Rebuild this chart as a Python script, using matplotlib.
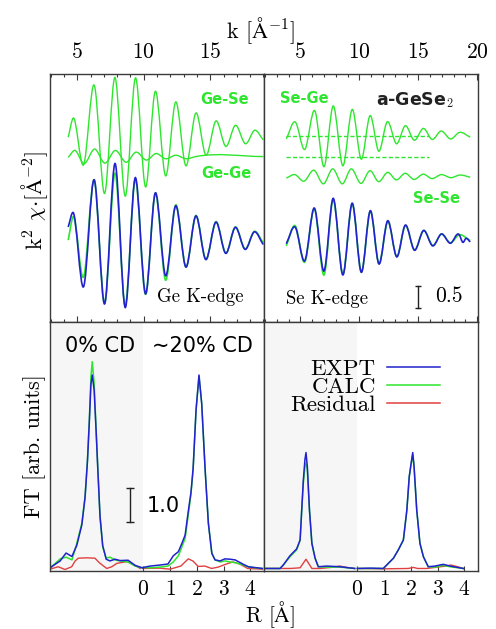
import numpy as np
import matplotlib
matplotlib.use('Agg')
import matplotlib.pyplot as plt
from matplotlib.path import Path
from matplotlib.patches import PathPatch
from matplotlib.ticker import MultipleLocator

plt.rcParams['font.family'] = 'serif'
plt.rcParams['font.serif'] = ['cmr10']
plt.rcParams['mathtext.fontset'] = 'cm'
plt.rcParams['axes.formatter.use_mathtext'] = True

# ---- k-space, Ge K-edge (extrema) ----
k_gese = [4.32, 4.68, 5.47, 6.28, 7.05, 7.83, 8.61, 9.38, 10.14, 10.86, 11.65,
          12.40, 13.17, 13.92, 14.68, 15.43, 16.18, 16.89, 17.65, 18.36, 18.98]
gese = [4.20, 4.63, 3.57, 5.38, 2.92, 5.56, 2.86, 5.55, 3.07, 5.24, 3.32,
        5.00, 3.55, 4.75, 3.79, 4.57, 3.99, 4.47, 4.05, 4.36, 4.14]
k_gege = [4.32, 4.80, 5.50, 6.31, 7.07, 7.86, 8.68, 9.41, 10.20, 10.94, 11.63,
          12.42, 13.17, 13.92, 19.0]
gege = [3.74, 3.90, 3.60, 3.93, 3.61, 3.90, 3.63, 3.86, 3.68, 3.83, 3.71,
        3.79, 3.71, 3.76, 3.76]
k_ge = [4.32, 4.68, 5.47, 6.28, 7.05, 7.85, 8.60, 9.36, 10.14, 10.86, 11.65,
        12.40, 13.17, 13.92, 14.66, 15.43, 16.17, 16.88, 17.63, 18.32, 18.98]
ge_expt = [2.16, 2.49, 0.80, 3.23, 0.41, 3.60, 0.33, 3.28, 0.64, 2.93, 1.05,
           2.64, 1.25, 2.41, 1.42, 2.27, 1.56, 2.15, 1.65, 2.05, 1.76]
ge_calc = [1.86, 2.39, 1.02, 3.22, 0.43, 3.38, 0.38, 3.24, 0.63, 2.92, 0.95,
           2.66, 1.25, 2.42, 1.43, 2.28, 1.57, 2.16, 1.66, 2.06, 1.80]

# ---- k-space, Se K-edge ----
k_sege = [3.81, 4.55, 5.37, 6.23, 7.01, 7.78, 8.61, 9.40, 10.17, 10.91, 11.66,
          12.36, 13.17, 13.89, 14.66, 15.44, 16.17, 16.93, 17.74, 18.50, 19.40]
sege = [4.16, 4.55, 3.92, 4.80, 3.53, 4.91, 3.55, 4.83, 3.70, 4.69, 3.88,
        4.55, 4.05, 4.46, 4.13, 4.40, 4.15, 4.34, 4.16, 4.31, 4.20]
k_sese = [3.81, 4.53, 5.30, 6.15, 6.96, 7.74, 8.57, 9.31, 10.14, 10.91, 11.63,
          12.40, 13.14, 13.89, 14.63, 15.42, 16.15, 16.96, 17.76, 18.53, 19.40]
sese = [3.27, 3.35, 3.20, 3.45, 3.14, 3.48, 3.14, 3.48, 3.15, 3.44, 3.19,
        3.40, 3.23, 3.38, 3.24, 3.36, 3.26, 3.35, 3.28, 3.34, 3.29]
k_se_expt = [3.81, 4.55, 5.37, 6.19, 7.01, 7.78, 8.61, 9.40, 10.17, 10.94, 11.66,
             12.40, 13.19, 13.89, 14.68, 15.45, 16.23, 16.96, 17.72, 18.45,
             18.79, 19.04, 19.40]
se_expt = [1.78, 2.16, 1.39, 2.59, 1.16, 2.81, 1.07, 2.70, 1.13, 2.53, 1.32,
           2.30, 1.48, 2.20, 1.63, 2.08, 1.73, 2.00, 1.79, 1.99, 1.81, 1.90, 1.82]
k_se_calc = [3.81, 4.55, 5.37, 6.19, 7.01, 7.78, 8.61, 9.40, 10.17, 10.94, 11.66,
             12.40, 13.19, 13.89, 14.68, 15.45, 16.23, 16.96, 17.72, 18.45, 19.40]
se_calc = [1.73, 2.19, 1.36, 2.57, 1.07, 2.78, 1.09, 2.68, 1.14, 2.52, 1.33,
           2.28, 1.49, 2.19, 1.64, 2.08, 1.74, 2.00, 1.80, 1.98, 1.85]
dash_k = [3.8, 15.9]
dash_levels = [4.22, 3.75]

# ---- R-space, Ge K-edge ----
r_ge0 = [0.51, 0.89, 1.11, 1.33, 1.51, 1.70, 1.82, 1.91, 1.98, 2.04, 2.09, 2.16,
         2.23, 2.30, 2.38, 2.48, 2.61, 2.75, 2.94, 3.13, 3.43, 3.69, 3.99]
ft_ge0_calc = [0.04, 0.31, 0.36, 0.28, 0.76, 1.35, 2.12, 3.19, 4.36, 5.62, 6.06, 5.43,
               4.16, 2.90, 1.54, 0.66, 0.33, 0.36, 0.28, 0.25, 0.22, 0.10, 0.04]
ft_ge0_expt = [0.05, 0.25, 0.48, 0.38, 0.70, 1.30, 2.10, 3.15, 4.30, 5.40, 5.67, 5.23,
               4.10, 2.88, 1.55, 0.70, 0.30, 0.25, 0.30, 0.26, 0.27, 0.12, 0.04]
r_ge0_res = [0.51, 0.82, 1.07, 1.32, 1.45, 1.57, 1.88, 2.19, 2.35, 2.63, 2.82, 3.01,
             3.38, 3.65, 3.88]
ft_ge0_res = [0.01, 0.08, 0.00, 0.08, 0.25, 0.33, 0.34, 0.33, 0.20, 0.03, 0.08, 0.18,
              0.23, 0.14, 0.03]
r_ge20 = [0.0, 0.25, 0.62, 0.92, 1.12, 1.31, 1.44, 1.56, 1.68, 1.78, 1.86, 1.97, 2.08,
          2.18, 2.31, 2.43, 2.56, 2.68, 2.87, 3.05, 3.24, 3.43, 3.74, 3.93, 4.45]
ft_ge20_calc = [0.06, 0.05, 0.07, 0.10, 0.22, 0.40, 0.66, 0.90, 1.60, 2.20, 2.90, 4.65,
                5.62, 4.85, 2.90, 1.35, 0.47, 0.28, 0.22, 0.25, 0.22, 0.20, 0.13, 0.07, 0.03]
ft_ge20_expt = [0.06, 0.10, 0.13, 0.16, 0.40, 0.52, 0.76, 1.00, 1.70, 2.25, 2.95, 4.65,
                5.67, 4.85, 2.90, 1.35, 0.47, 0.28, 0.25, 0.31, 0.30, 0.28, 0.15, 0.08, 0.03]
r_ge20_res = [0.0, 0.6, 1.0, 1.4, 1.68, 1.85, 2.05, 2.3, 2.55, 2.8, 3.1, 3.35, 3.6, 3.9, 4.45]
ft_ge20_res = [0.03, 0.04, 0.01, 0.10, 0.31, 0.25, 0.09, 0.10, 0.03, 0.07, 0.16, 0.22,
               0.16, 0.03, 0.01]

# ---- R-space, Se K-edge ----
r_se0 = [0.49, 1.11, 1.23, 1.48, 1.73, 1.86, 1.92, 1.98, 2.04, 2.08, 2.13, 2.21,
         2.30, 2.42, 2.54, 2.86, 3.35, 3.90]
ft_se0_calc = [0.03, 0.03, 0.13, 0.37, 0.57, 0.86, 1.73, 2.51, 3.00, 3.10, 2.90, 1.73,
               0.76, 0.33, 0.08, 0.07, 0.07, 0.03]
ft_se0_expt = [0.03, 0.03, 0.13, 0.40, 0.60, 0.86, 1.73, 2.60, 3.20, 3.41, 3.00, 1.73,
               0.76, 0.33, 0.08, 0.10, 0.08, 0.03]
r_se0_res = [0.49, 1.5, 1.86, 2.08, 2.30, 2.6, 3.0, 3.35, 3.6, 3.9]
ft_se0_res = [0.03, 0.03, 0.05, 0.30, 0.03, 0.03, 0.06, 0.10, 0.06, 0.03]
r_se20 = [0.0, 0.5, 0.97, 1.35, 1.53, 1.72, 1.85, 1.94, 2.01, 2.07, 2.12, 2.22, 2.34,
          2.47, 2.65, 2.9, 3.21, 3.47, 3.96]
ft_se20_calc = [0.03, 0.03, 0.03, 0.33, 0.57, 0.86, 1.73, 2.71, 3.06, 3.34, 3.0, 1.73,
                0.76, 0.37, 0.08, 0.07, 0.12, 0.08, 0.03]
ft_se20_expt = [0.03, 0.04, 0.03, 0.33, 0.57, 0.86, 1.73, 2.71, 3.10, 3.41, 3.0, 1.73,
                0.76, 0.37, 0.08, 0.10, 0.15, 0.10, 0.03]
r_se20_res = [0.0, 1.0, 1.9, 2.1, 2.25, 2.6, 3.0, 3.3, 3.5, 3.75, 3.96]
ft_se20_res = [0.03, 0.02, 0.03, 0.06, 0.03, 0.03, 0.07, 0.10, 0.13, 0.08, 0.03]

r_shift = 4.0   # 0% CD curves are drawn to the left of R = 0

blue = '#2222cc'
green = '#2ee62e'
red = '#e04040'
edge = '#3a3a3a'


def smooth(ax, x, y, color, lw=1.0):
    # cubic curve through the read extrema
    x = np.asarray(x, float)
    y = np.asarray(y, float)
    m = np.gradient(y, x)
    verts = [(x[0], y[0])]
    for i in range(len(x) - 1):
        h = (x[i + 1] - x[i]) / 3
        verts += [(x[i] + h, y[i] + m[i] * h),
                  (x[i + 1] - h, y[i + 1] - m[i + 1] * h),
                  (x[i + 1], y[i + 1])]
    codes = [Path.MOVETO] + [Path.CURVE4] * (3 * (len(x) - 1))
    ax.add_patch(PathPatch(Path(verts, codes), fill=False, edgecolor=color, lw=lw))


fig = plt.figure(figsize=(4.96, 6.29), dpi=100)
W, H = 496, 629
ax_tl = fig.add_axes([50 / W, 1 - 322 / H, 214 / W, 248 / H])
ax_tr = fig.add_axes([264 / W, 1 - 322 / H, 214 / W, 248 / H])
ax_bl = fig.add_axes([50 / W, 1 - 570.7 / H, 214 / W, 248.7 / H])
ax_br = fig.add_axes([264 / W, 1 - 570.7 / H, 214 / W, 248.7 / H])

for ax in [ax_tl, ax_tr, ax_bl, ax_br]:
    for s in ax.spines.values():
        s.set_color(edge)
        s.set_linewidth(1.0)
    ax.set_yticks([])

# top row
smooth(ax_tl, k_gese, gese, green)
smooth(ax_tl, k_gege, gege, green)
smooth(ax_tl, k_ge, ge_calc, green, 1.2)
smooth(ax_tl, k_ge, ge_expt, blue, 1.2)
ax_tl.set_xlim(2.95, 19.04)

smooth(ax_tr, k_sege, sege, green)
smooth(ax_tr, k_sese, sese, green)
ax_tr.hlines(dash_levels, dash_k[0], dash_k[1], colors=green, lw=1.0,
             linestyles=(0, (3, 1.6)))
smooth(ax_tr, k_se_calc, se_calc, green, 1.2)
smooth(ax_tr, k_se_expt, se_expt, blue, 1.2)
ax_tr.set_xlim(1.92, 20.06)

for ax in [ax_tl, ax_tr]:
    ax.set_ylim(0, 248 / 44)
    ax.xaxis.set_major_locator(MultipleLocator(5))
    ax.xaxis.set_minor_locator(MultipleLocator(1))
    ax.tick_params(axis='x', which='both', direction='in', top=True, bottom=True,
                   labeltop=True, labelbottom=False, labelsize=15.5, pad=9,
                   color=edge, width=0.8)
    ax.tick_params(axis='x', which='major', length=4.3)
    ax.tick_params(axis='x', which='minor', length=2.0)

sans_g = dict(family='DejaVu Sans', fontweight='bold', color=green, fontsize=10.5,
              ha='center', va='center')
ax_tl.text(0.816, 0.899, 'Ge-Se', transform=ax_tl.transAxes, **sans_g)
ax_tl.text(0.822, 0.600, 'Ge-Ge', transform=ax_tl.transAxes, **sans_g)
ax_tl.text(0.701, 0.102, 'Ge K-edge', transform=ax_tl.transAxes, fontsize=13.5,
           ha='center', va='center')
ax_tr.text(0.188, 0.903, 'Se-Ge', transform=ax_tr.transAxes, **sans_g)
ax_tr.text(0.808, 0.497, 'Se-Se', transform=ax_tr.transAxes, **sans_g)
ax_tr.text(0.706, 0.895, r'a-GeSe$_2$', transform=ax_tr.transAxes, family='DejaVu Sans',
           fontweight='bold', fontsize=12.5, ha='center', va='center', color='#222222')
ax_tr.text(0.293, 0.094, 'Se K-edge', transform=ax_tr.transAxes, fontsize=13.5,
           ha='center', va='center')
# 0.5 scale bar
ax_tr.plot([15.0, 15.0], [0.325, 0.825], color='#222222', lw=1.0, marker='_', ms=5)
ax_tr.text(16.4, 0.575, '0.5', fontsize=15.5, ha='left', va='center')

# bottom row
panels = [
    (ax_bl, r_ge0, ft_ge0_expt, ft_ge0_calc, r_ge0_res, ft_ge0_res,
     r_ge20, ft_ge20_expt, ft_ge20_calc, r_ge20_res, ft_ge20_res),
    (ax_br, r_se0, ft_se0_expt, ft_se0_calc, r_se0_res, ft_se0_res,
     r_se20, ft_se20_expt, ft_se20_calc, r_se20_res, ft_se20_res),
]
for ax, r0, e0, c0, rr0, res0, r2, e2, c2, rr2, res2 in panels:
    ax.axvspan(-3.49, 0, color='#f6f6f6', lw=0, zorder=0)
    x0 = np.array(r0) - r_shift
    xr0 = np.array(rr0) - r_shift
    ax.plot(xr0, res0, color=red, lw=1.0)
    ax.plot(rr2, res2, color=red, lw=1.0)
    ax.plot(x0, c0, color=green, lw=1.1)
    ax.plot(r2, c2, color=green, lw=1.1)
    ax.plot(x0, e0, color=blue, lw=1.1)
    ax.plot(r2, e2, color=blue, lw=1.1)
    ax.set_xlim(-3.49, 4.51)
    ax.set_ylim((569.5 - 570.7) / 34.3, (569.5 - 322) / 34.3)
    ax.set_xticks([0, 1, 2, 3, 4])
    ax.tick_params(axis='x', direction='in', length=3.3, labelsize=15.5, pad=6.5,
                   color=edge, width=0.8)

ax_bl.text(0.234, 0.904, '0% CD', transform=ax_bl.transAxes, family='DejaVu Sans',
           fontsize=15, ha='center', va='center')
ax_bl.text(0.713, 0.904, '\u223c20% CD', transform=ax_bl.transAxes, family='DejaVu Sans',
           fontsize=15, ha='center', va='center')
# 1.0 scale bar
ax_bl.plot([-0.5, -0.5], [1.39, 2.39], color='#222222', lw=1.0, marker='_', ms=6)
ax_bl.text(0.14, 1.86, '1.0', family='DejaVu Sans', fontsize=15, ha='left', va='center')

h_e, = ax_br.plot([], [], color=blue, lw=1.1)
h_c, = ax_br.plot([], [], color=green, lw=1.1)
h_r, = ax_br.plot([], [], color=red, lw=1.1)
ax_br.legend([h_e, h_c, h_r], ['EXPT', 'CALC', 'Residual'], loc='upper right',
             bbox_to_anchor=(0.822, 0.85), markerfirst=False, frameon=False,
             fontsize=16.5, handlelength=2.3, handletextpad=0.5, labelspacing=-0.1,
             borderpad=0, borderaxespad=0)

fig.text(0.526, 0.952, r'k [$\mathrm{\AA}^{-1}$]', fontsize=16, ha='center', va='center')
fig.text(0.544, 0.023, r'R [$\mathrm{\AA}$]', fontsize=15.5, ha='center', va='center')
fig.text(0.07, 0.682, r'k$^2$ $\chi{\cdot}$[$\mathrm{\AA}^{-2}$]', fontsize=16,
         rotation=90, ha='center', va='center')
fig.text(0.07, 0.291, 'FT [arb. units]', fontsize=16, rotation=90,
         ha='center', va='center')

fig.savefig('out.png', dpi=100)
